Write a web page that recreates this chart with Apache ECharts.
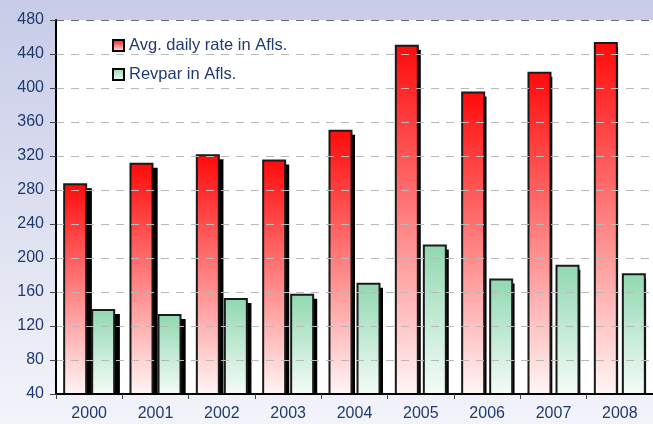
<!DOCTYPE html>
<html>
<head>
<meta charset="utf-8">
<script src="https://cdn.jsdelivr.net/npm/echarts@6/dist/echarts.min.js"></script>
<style>
html,body{margin:0;padding:0;}
#chart{width:653px;height:424px;}
</style>
</head>
<body>
<div id="chart"></div>
<script>
// ---- data ----
var years = ['2000','2001','2002','2003','2004','2005','2006','2007','2008'];
var avgDailyRate = [288, 312, 322, 316, 351, 451, 396, 419, 454];
var revpar = [140, 134, 153, 158, 171, 216, 176, 192, 182];
var yMin = 40, yMax = 480, yStep = 40;
var seriesNames = ['Avg. daily rate in Afls.', 'Revpar in Afls.'];

// ---- layout ----
var gridLeft = 56, gridTop = 20, gridWidth = 606, gridHeight = 374;
var shadowOff = 5;
var pxPerUnit = gridHeight / (yMax - yMin);
var textColor = '#1f3a6e';
var font = 'Liberation Sans, Arial, sans-serif';

function grad(top, bottom) {
  return new echarts.graphic.LinearGradient(0, 0, 0, 1, [
    {offset: 0, color: top}, {offset: 1, color: bottom}
  ]);
}
var redGrad = grad('#ff0a0a', '#fff6f6');
var greenGrad = grad('#90d8b0', '#f5fcf8');

var splitColors = [];
for (var v = yMin; v <= yMax; v += yStep) splitColors.push(v === yMax ? '#6a6a78' : '#b8b8b8');

var barW = 24, barGap = '16.7%';

var chart = echarts.init(document.getElementById('chart'), null, {renderer: 'canvas'});
chart.setOption({
  animation: false,
  backgroundColor: grad('#c7cbe7', '#f3f4fa'),
  textStyle: {fontFamily: font},
  grid: [
    {left: gridLeft, top: gridTop, width: gridWidth, height: gridHeight,
     show: true, backgroundColor: '#ffffff', borderWidth: 0},
    {left: gridLeft + shadowOff, top: gridTop + shadowOff, width: gridWidth, height: gridHeight - shadowOff}
  ],
  legend: {
    data: seriesNames,
    orient: 'vertical',
    left: 88, top: 22,
    padding: [15, 21, 5, 24],
    itemGap: 12,
    itemWidth: 11, itemHeight: 11,
    icon: 'rect',
    backgroundColor: '#ffffff',
    textStyle: {color: textColor, fontSize: 16.5, fontFamily: font},
    itemStyle: {borderColor: '#000', borderWidth: 2}
  },
  xAxis: [
    {gridIndex: 0, type: 'category', data: years, boundaryGap: true, z: 5,
     axisLine: {lineStyle: {color: '#000', width: 2}},
     axisTick: {show: true, length: 5, lineStyle: {color: '#444'}},
     axisLabel: {color: textColor, fontSize: 16, margin: 12, fontFamily: font},
     splitLine: {show: false}},
    {gridIndex: 1, type: 'category', data: years, boundaryGap: true, show: false}
  ],
  yAxis: [
    {gridIndex: 0, type: 'value', min: yMin, max: yMax, interval: yStep, z: 5,
     axisLine: {show: true, lineStyle: {color: '#000', width: 2}},
     axisTick: {show: true, length: 6, lineStyle: {color: '#444'}},
     axisLabel: {color: textColor, fontSize: 16, margin: 12, fontFamily: font},
     splitLine: {show: true, lineStyle: {color: splitColors, type: [8, 7], width: 1}}},
    {gridIndex: 1, type: 'value', min: yMin + shadowOff / pxPerUnit, max: yMax, show: false,
     splitLine: {show: false}}
  ],
  series: [
    {name: 'shadowA', type: 'bar', xAxisIndex: 1, yAxisIndex: 1, data: avgDailyRate,
     barWidth: barW, barGap: barGap, z: 1, silent: true,
     itemStyle: {color: '#000'}},
    {name: 'shadowB', type: 'bar', xAxisIndex: 1, yAxisIndex: 1, data: revpar,
     barWidth: barW, barGap: barGap, z: 1, silent: true,
     itemStyle: {color: '#000'}},
    {name: seriesNames[0], type: 'bar', xAxisIndex: 0, yAxisIndex: 0, data: avgDailyRate,
     barWidth: barW, barGap: barGap, z: 3,
     itemStyle: {color: redGrad, borderColor: '#1a1a1a', borderWidth: 2}},
    {name: seriesNames[1], type: 'bar', xAxisIndex: 0, yAxisIndex: 0, data: revpar,
     barWidth: barW, barGap: barGap, z: 3,
     itemStyle: {color: greenGrad, borderColor: '#1a1a1a', borderWidth: 2}}
  ]
});
</script>
</body>
</html>
